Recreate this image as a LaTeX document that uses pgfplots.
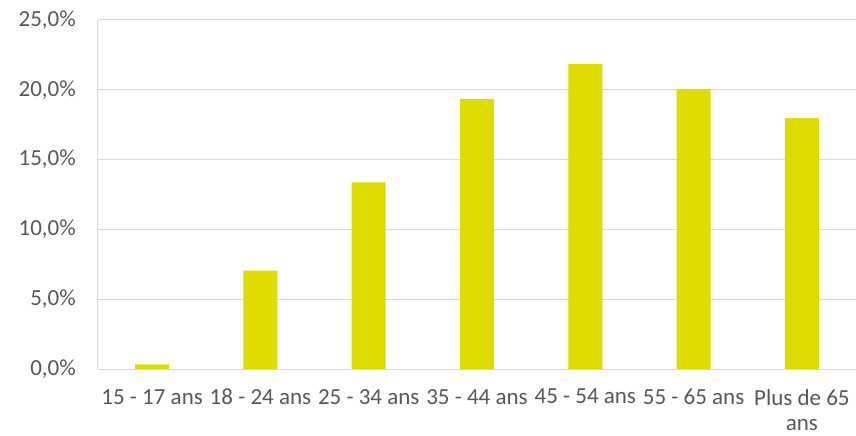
\documentclass[border=0pt]{standalone}
\usepackage{pgfplots}
\pgfplotsset{compat=1.18}
\usepackage{fontspec}
\setmainfont{Carlito}
\definecolor{barcol}{HTML}{DEDC00}
\definecolor{txtcol}{HTML}{595959}
\definecolor{gridcol}{HTML}{D9D9D9}
\begin{document}
\begin{tikzpicture}
\path[use as bounding box] (-98pt,-67pt) rectangle (758pt,369pt);
\begin{axis}[
  at={(0,0)}, anchor=south west,
  scale only axis,
  width=758pt, height=349pt,
  ymin=0, ymax=25,
  xmin=-0.5, xmax=6.5,
  axis lines*=left,
  axis line style={draw=gridcol, line width=1pt},
  ymajorgrids,
  grid style={draw=gridcol, line width=1pt},
  major tick length=0pt,
  ytick={0,5,10,15,20,25},
  yticklabels={{0,0\%},{5,0\%},{10,0\%},{15,0\%},{20,0\%},{25,0\%}},
  xtick={0,1,2,3,4,5,6},
  xticklabels={15 - 17 ans,18 - 24 ans,25 - 34 ans,35 - 44 ans,45 - 54 ans,55 - 65 ans,Plus de 65\\ans},
  tick label style={font=\fontsize{23}{25.5}\selectfont, text=txtcol},
  y tick label style={inner sep=0pt, xshift=-22pt},
  x tick label style={inner sep=0pt, yshift=-20pt, align=center, anchor=north},
  clip=false,
]
\addplot[ybar, bar width=34pt, fill=barcol, draw=none] coordinates {
  (0,0.34) (1,7.05) (2,13.36) (3,19.33) (4,21.84) (5,20.07) (6,17.97)
};
\end{axis}
\end{tikzpicture}
\end{document}
